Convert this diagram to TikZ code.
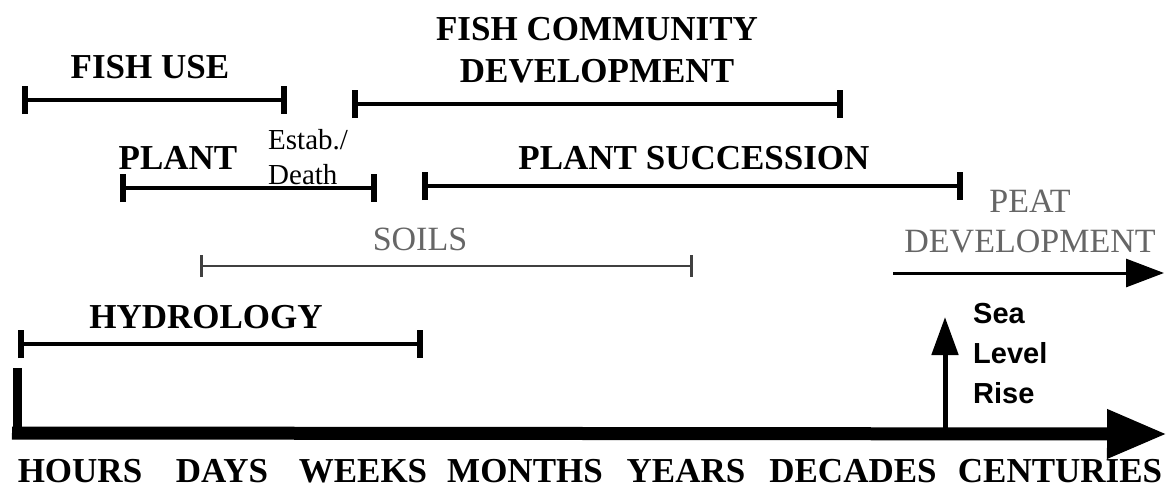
\documentclass[tikz,border=0pt]{standalone}
\usepackage{fontspec}
\setmainfont{Liberation Serif}
\newfontfamily\risefont{Liberation Sans}
\usepackage{tikz}
\usetikzlibrary{arrows.meta}
\usetikzlibrary{positioning}

\begin{document}
\begin{tikzpicture}[x=1pt, y=-1pt]
	\tikzstyle{lab}=[font=\fontsize{35}{42}\selectfont\bfseries, inner sep=0pt];
	\tikzstyle{gl}=[font=\fontsize{34}{40}\selectfont, text=black!60, inner sep=0pt];
	\tikzstyle{span}=[line width=4pt, {Bar[width=28pt, line width=6pt]}-{Bar[width=28pt, line width=6pt]}];
	\tikzstyle{gspan}=[line width=2.5pt, black!75, {Bar[width=22pt, line width=3pt]}-{Bar[width=22pt, line width=3pt]}];
	\useasboundingbox (0,0) rectangle (1168,490);
	% time spans
	\foreach \n/\a/\b/\y in {fu/22/287/100, fc/352/843/104, pl/120/377/188, ps/422/963/186, hy/18/423/344}
	{\coordinate (\n1) at (\a,\y);
	 \coordinate (\n2) at (\b,\y);
	 \draw[span] (\n1) -- (\n2);}
	\coordinate (so1) at (200,266);
	\coordinate (so2) at (693,266);
	\draw[gspan] (so1) -- (so2);
	\node[lab] (fishuse) at (150,67) {FISH USE};
	\node[lab, align=center] (fishcom) at (597,50) {FISH COMMUNITY\\DEVELOPMENT};
	\node[lab] (plant) at (178,158) {PLANT};
	\node[font=\fontsize{29}{35}\selectfont, align=left, inner sep=0pt, anchor=north west]
		(estab) at (268,129) {Estab./\\Death};
	\node[lab] (plantsucc) at (694,158) {PLANT SUCCESSION};
	\node[gl] (soils) at (420,239) {SOILS};
	\node[lab] (hydro) at (206,317) {HYDROLOGY};
	\node[gl, align=center, font=\fontsize{34}{40}\selectfont] (peat) at (1030,222) {PEAT\\DEVELOPMENT};
	\coordinate (pe1) at (893,273);
	\coordinate (pe2) at (1164,273);
	\draw[line width=3pt, -{Triangle[length=38pt, width=28pt]}] (pe1) -- (pe2);
	% time axis
	\coordinate (v1) at (17,368);
	\coordinate (v2) at (17,438);
	\coordinate (ax1) at (12,433);
	\coordinate (ax2) at (1167,434);
	\draw[line width=9pt] (v1) -- (v2);
	\draw[line width=13pt, -{Triangle[length=60pt, width=46pt]}] (ax1) -- (ax2);
	\coordinate (sl1) at (945,432);
	\coordinate (sl2) at (945,317);
	\draw[line width=5pt, -{Triangle[length=38pt, width=26pt]}] (sl1) -- (sl2);
	\node[font=\risefont\bfseries\fontsize{29}{40}\selectfont, align=left, inner sep=0pt, anchor=north west]
		(rise) at (973,303) {Sea\\Level\\Rise};
	\foreach \t/\x in {HOURS/80, DAYS/222, WEEKS/363, MONTHS/525, YEARS/686, DECADES/853, CENTURIES/1060}
	{\node[lab] (\t) at (\x,471) {\t};}
\end{tikzpicture}
\end{document}
